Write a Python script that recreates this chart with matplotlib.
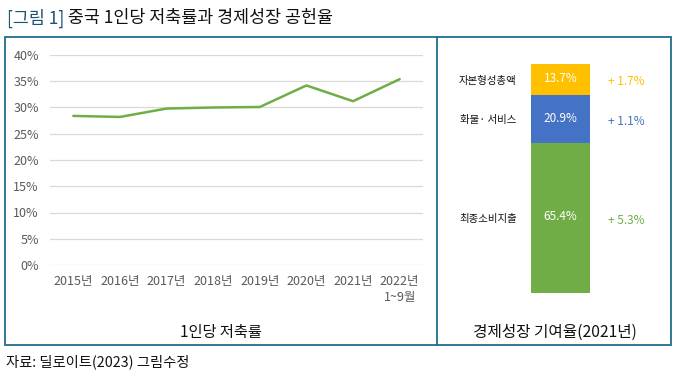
import matplotlib
matplotlib.use("Agg")
import matplotlib.pyplot as plt
from matplotlib.patches import Rectangle
from matplotlib.lines import Line2D

plt.rcParams['font.family'] = ['Noto Sans CJK KR', 'DejaVu Sans']

# ---- data ----
years = ["2015년", "2016년", "2017년", "2018년", "2019년", "2020년", "2021년", "2022년\n1~9월"]
savings_rate = [28.4, 28.2, 29.8, 30.0, 30.1, 34.2, 31.2, 35.4]
y_ticks = [0, 5, 10, 15, 20, 25, 30, 35, 40]

components = ["최종소비지출", "화물· 서비스", "자본형성총액"]
shares = [65.4, 20.9, 13.7]
growth = ["+ 5.3%", "+ 1.1%", "+ 1.7%"]
colors = ["#70AD47", "#4472C4", "#FFC000"]

W, H = 676, 380
fig = plt.figure(figsize=(W / 100, H / 100), dpi=100)

def rect(x0, y0, x1, y1):
    return [x0 / W, 1 - y1 / H, (x1 - x0) / W, (y1 - y0) / H]

border = "#216E8F"
# frame
bg = fig.add_axes([0, 0, 1, 1])
bg.set_xlim(0, W)
bg.set_ylim(H, 0)
bg.axis("off")
bg.add_patch(Rectangle((5, 37), 666, 308, fill=False, edgecolor=border, lw=1.3))
bg.add_line(Line2D([437, 437], [37, 345], color=border, lw=1.3))

# title
t1 = bg.text(7, 18, "[그림 1]", fontsize=12.5, color="#1B5570", va="center", ha="left")
bg.annotate(" 중국 1인당 저축률과 경제성장 공헌율", xy=(1, 0.5), xycoords=t1,
            fontsize=12.5, color="#111111", va="center", ha="left")

bg.text(221, 332, "1인당 저축률", fontsize=11, ha="center", va="center", color="#111111")
bg.text(555, 332, "경제성장 기여율(2021년)", fontsize=11.3, ha="center", va="center", color="#111111")
bg.text(6, 362, "자료: 딜로이트(2023) 그림수정", fontsize=10.3, ha="left", va="center", color="#111111")

# ---- line chart ----
ax = fig.add_axes(rect(50, 55, 423, 265))
x = list(range(len(years)))
ax.plot(x, savings_rate, color="#70AD47", lw=1.8, solid_capstyle="round")
ax.set_xlim(-0.5, len(years) - 0.5)
ax.set_ylim(0, 40)
ax.set_yticks(y_ticks)
ax.set_yticklabels([f"{v}%" for v in y_ticks])
ax.set_xticks(x)
ax.set_xticklabels(years)
ax.grid(axis="y", color="#D9D9D9", lw=0.9)
ax.set_axisbelow(True)
for s in ax.spines.values():
    s.set_visible(False)
ax.tick_params(length=0, labelsize=9, colors="#595959", pad=7)
ax.tick_params(axis="y", pad=8)
for lbl in ax.get_xticklabels():
    lbl.set_linespacing(1.3)

# ---- stacked bar ----
bx = fig.add_axes(rect(440, 64, 668, 293))
bx.set_xlim(-2.04, 1.82)
bx.set_ylim(0, 100)
bx.axis("off")
bottom = 0
for name, val, g, c in zip(components, shares, growth, colors):
    bx.bar(0, val, width=1, bottom=bottom, color=c, edgecolor="none")
    mid = bottom + val / 2
    bx.text(0, mid + 0.5, f"{val}%", color="white", fontsize=8.5, ha="center", va="center")
    bx.text(-0.74, mid - 0.5, name, color="#111111", fontsize=7.5, ha="right", va="center")
    bx.text(0.80, mid - 1, g, color=c, fontsize=8.5, ha="left", va="center")
    bottom += val

fig.savefig("out.png", dpi=100)
